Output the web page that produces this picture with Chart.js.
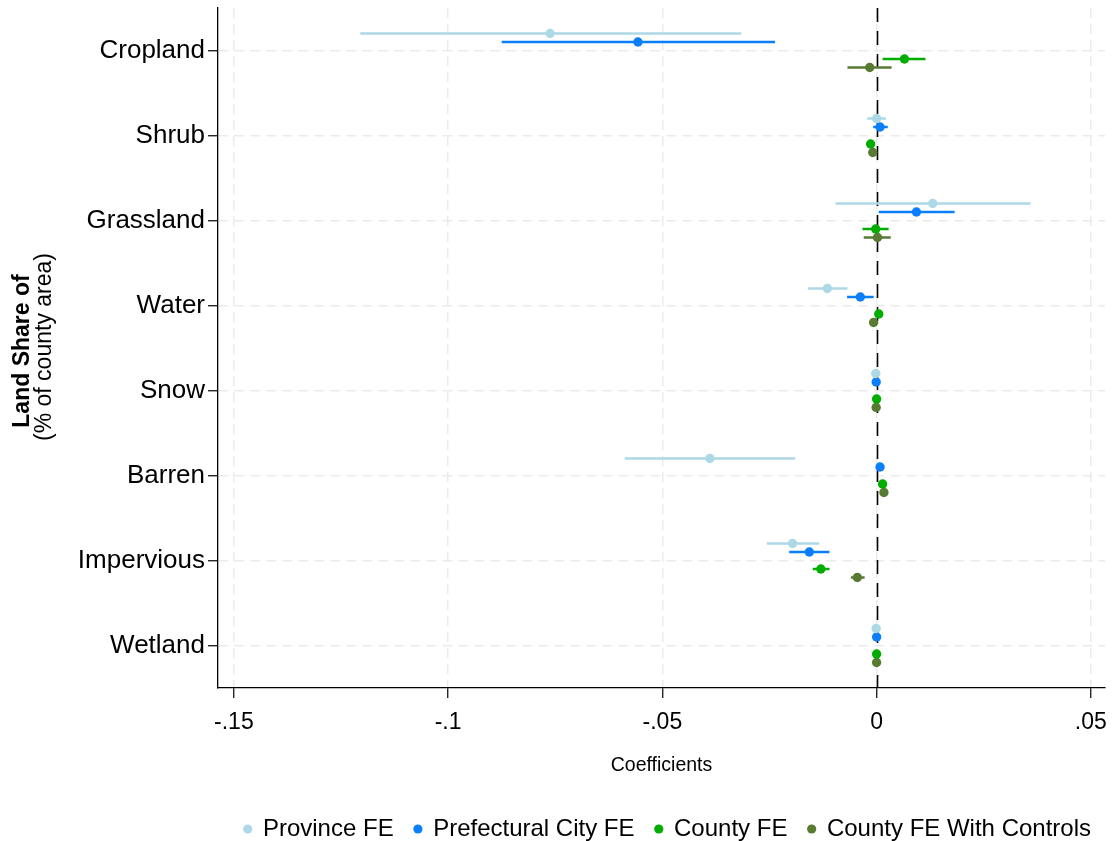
<!DOCTYPE html>
<html>
<head>
<meta charset="utf-8">
<script src="https://cdn.jsdelivr.net/npm/chart.js@4"></script>
<style>
  html, body { margin: 0; padding: 0; background: #ffffff; }
  #wrap { width: 1112px; height: 841px; }
</style>
</head>
<body>
<div id="wrap"><canvas id="chartCoef"></canvas></div>
<script>
// categories (top to bottom)
const categories = ['Cropland', 'Shrub', 'Grassland', 'Water', 'Snow', 'Barren', 'Impervious', 'Wetland'];

// x-axis ticks
const xTickValues = [-0.15, -0.1, -0.05, 0, 0.05];
const xTickLabels = ['-.15', '-.1', '-.05', '0', '.05'];

// series names
const seriesNames = ['Province FE', 'Prefectural City FE', 'County FE', 'County FE With Controls'];

// point estimates
const provinceCoef = [-0.0762, 0.0000, 0.0131, -0.0115, -0.0002, -0.0389, -0.0196, -0.0001];
const prefCoef     = [-0.0557, 0.0008, 0.0093, -0.0038, -0.0001, 0.0008, -0.0157, 0.0000];
const countyCoef   = [0.0065, -0.0014, -0.0002, 0.0005, 0.0000, 0.0014, -0.0130, 0.0000];
const controlsCoef = [-0.0016, -0.0009, 0.0002, -0.0007, -0.0001, 0.0017, -0.0045, 0.0000];

// confidence intervals (lower / upper)
const provinceLo = [-0.1205, -0.0022, -0.0096, -0.0160, -0.0004, -0.0588, -0.0256, -0.0003];
const provinceHi = [-0.0316, 0.0022, 0.0359, -0.0068, 0.0000, -0.0190, -0.0134, 0.0001];
const prefLo     = [-0.0875, -0.0008, 0.0005, -0.0069, -0.0003, 0.0006, -0.0204, -0.0002];
const prefHi     = [-0.0237, 0.0026, 0.0182, -0.0007, 0.0001, 0.0010, -0.0110, 0.0002];
const countyLo   = [0.0014, -0.0018, -0.0033, 0.0003, -0.0002, 0.0012, -0.0149, -0.0002];
const countyHi   = [0.0114, -0.0010, 0.0028, 0.0007, 0.0002, 0.0016, -0.0110, 0.0002];
const controlsLo = [-0.0068, -0.0012, -0.0030, -0.0010, -0.0003, 0.0015, -0.0060, -0.0002];
const controlsHi = [0.0035, -0.0006, 0.0033, -0.0004, 0.0001, 0.0019, -0.0028, 0.0002];

const seriesColors = ['#add8e6', '#0b7ffa', '#00ad00', '#587a33'];
const rowOffsets = [-0.2, -0.1, 0.1, 0.2];

const coefs = [provinceCoef, prefCoef, countyCoef, controlsCoef];
const los = [provinceLo, prefLo, countyLo, controlsLo];
const his = [provinceHi, prefHi, countyHi, controlsHi];

const datasets = seriesNames.map(function (name, s) {
    return {
        label: name,
        data: coefs[s].map(function (v, i) { return { x: v, y: i + rowOffsets[s] }; }),
        ciLo: los[s],
        ciHi: his[s],
        backgroundColor: seriesColors[s],
        borderColor: seriesColors[s],
        borderWidth: 0,
        pointRadius: 4.7,
        pointHoverRadius: 4.7,
        pointStyle: 'circle'
    };
});

// horizontal CI bars + dashed zero line, drawn under the markers
const ciPlugin = {
    id: 'ciBars',
    beforeDatasetsDraw: function (chart) {
        const ctx = chart.ctx;
        const xs = chart.scales.x;
        const ys = chart.scales.y;
        const area = chart.chartArea;

        ctx.save();
        ctx.strokeStyle = '#000000';
        ctx.lineWidth = 1.6;
        ctx.setLineDash([14, 9]);
        const x0 = Math.round(xs.getPixelForValue(0)) + 0.5;
        ctx.beginPath();
        ctx.moveTo(x0, area.top);
        ctx.lineTo(x0, area.bottom);
        ctx.stroke();
        ctx.restore();

        chart.data.datasets.forEach(function (ds) {
            ctx.save();
            ctx.strokeStyle = ds.borderColor;
            ctx.lineWidth = 2.5;
            ds.data.forEach(function (pt, i) {
                const y = ys.getPixelForValue(pt.y);
                ctx.beginPath();
                ctx.moveTo(xs.getPixelForValue(ds.ciLo[i]), y);
                ctx.lineTo(xs.getPixelForValue(ds.ciHi[i]), y);
                ctx.stroke();
            });
            ctx.restore();
        });
    }
};

// two-line rotated y-axis title (first line bold)
const yTitlePlugin = {
    id: 'yTitle',
    afterDraw: function (chart) {
        const ctx = chart.ctx;
        const area = chart.chartArea;
        const cy = (area.top + area.bottom) / 2;
        ctx.save();
        ctx.fillStyle = '#000000';
        ctx.textAlign = 'center';
        ctx.textBaseline = 'middle';
        ctx.translate(22.5, cy + 3);
        ctx.rotate(-Math.PI / 2);
        ctx.font = 'bold 23px "Liberation Sans", Arial, sans-serif';
        ctx.fillText('Land Share of', 0, 0);
        ctx.font = '23px "Liberation Sans", Arial, sans-serif';
        ctx.fillText('(% of county area)', 4, 22);
        ctx.restore();
    }
};

Chart.defaults.font.family = '"Liberation Sans", Arial, sans-serif';
Chart.defaults.color = '#000000';

new Chart(document.getElementById('chartCoef'), {
    type: 'scatter',
    data: { datasets: datasets },
    plugins: [ciPlugin, yTitlePlugin],
    options: {
        responsive: true,
        maintainAspectRatio: false,
        animation: false,
        layout: { padding: { top: 8, right: 0, bottom: -10, left: 0 } },
        plugins: {
            tooltip: { enabled: false },
            legend: {
                position: 'bottom',
                align: 'end',
                labels: {
                    usePointStyle: true,
                    boxWidth: 6.5,
                    boxHeight: 6.5,
                    padding: 21,
                    font: { size: 24 },
                    color: '#000000'
                }
            }
        },
        scales: {
            x: {
                type: 'linear',
                min: -0.1537,
                max: 0.0533,
                afterBuildTicks: function (axis) {
                    axis.ticks = xTickValues.map(function (v) { return { value: v }; });
                },
                afterFit: function (axis) {
                    axis.height = 108;
                    axis.paddingLeft = 0;
                    axis.paddingRight = 7;
                },
                ticks: {
                    padding: 11,
                    font: { size: 23 },
                    color: '#000000',
                    callback: function (value) {
                        const k = xTickValues.findIndex(function (t) { return Math.abs(t - value) < 1e-9; });
                        return k >= 0 ? xTickLabels[k] : '';
                    }
                },
                grid: {
                    color: '#ebebeb',
                    lineWidth: 1.5,
                    tickColor: '#000000',
                    tickLength: 10,
                    tickWidth: 1.2
                },
                border: { display: true, color: '#000000', width: 1.3, dash: [10, 6] },
                title: {
                    display: true,
                    text: 'Coefficients',
                    font: { size: 19.5 },
                    color: '#000000',
                    padding: { top: 4, bottom: 19 }
                }
            },
            y: {
                type: 'linear',
                reverse: true,
                min: -0.5,
                max: 7.5,
                afterBuildTicks: function (axis) {
                    axis.ticks = categories.map(function (c, i) { return { value: i }; });
                },
                afterFit: function (axis) {
                    axis.width = 218;
                    axis.paddingTop = 0;
                    axis.paddingBottom = 0;
                },
                ticks: {
                    padding: 3,
                    font: { size: 26 },
                    color: '#000000',
                    callback: function (value) { return categories[value] || ''; }
                },
                grid: {
                    color: '#ebebeb',
                    lineWidth: 1.5,
                    tickColor: '#000000',
                    tickLength: 10,
                    tickWidth: 1.2
                },
                border: { display: true, color: '#000000', width: 1.3, dash: [10, 6] }
            }
        }
    }
});
</script>
</body>
</html>
